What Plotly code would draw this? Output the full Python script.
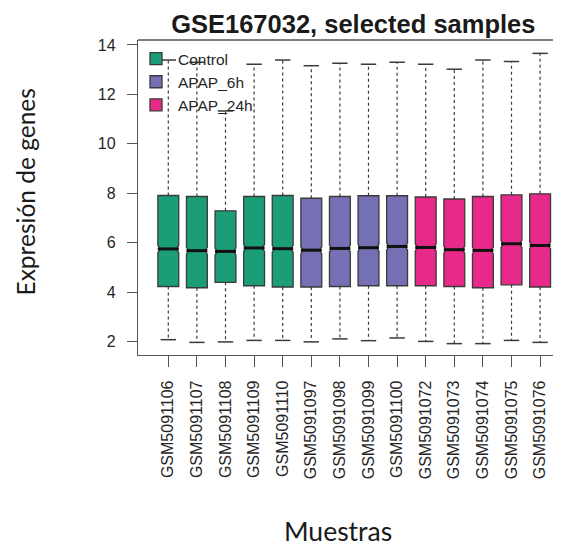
import plotly.graph_objects as go

samples = ["GSM5091106", "GSM5091107", "GSM5091108", "GSM5091109", "GSM5091110",
           "GSM5091097", "GSM5091098", "GSM5091099", "GSM5091100",
           "GSM5091072", "GSM5091073", "GSM5091074", "GSM5091075", "GSM5091076"]
groups = ["Control"] * 5 + ["APAP_6h"] * 4 + ["APAP_24h"] * 5
group_names = ["Control", "APAP_6h", "APAP_24h"]
group_colors = {"Control": "#1B9E77", "APAP_6h": "#7570B3", "APAP_24h": "#E7298A"}

upper_whisker = [13.39, 13.30, 11.33, 13.22, 13.39, 13.16, 13.26,
                 13.22, 13.30, 13.22, 13.02, 13.39, 13.33, 13.66]
q3 = [7.91, 7.87, 7.29, 7.87, 7.91, 7.80, 7.87,
      7.90, 7.90, 7.85, 7.77, 7.87, 7.94, 7.98]
median = [5.75, 5.68, 5.65, 5.79, 5.76, 5.70, 5.77,
          5.80, 5.85, 5.81, 5.72, 5.69, 5.96, 5.89]
q1 = [4.23, 4.18, 4.40, 4.26, 4.21, 4.21, 4.23,
      4.26, 4.26, 4.26, 4.23, 4.18, 4.30, 4.21]
lower_whisker = [2.08, 1.97, 1.99, 2.05, 2.05, 1.99, 2.11,
                 2.04, 2.15, 2.01, 1.92, 1.92, 2.05, 1.97]

y_ticks = [2, 4, 6, 8, 10, 12, 14]

# the page body adds an 8px margin, so the figure is laid out in window coords minus 8
OFF = 8
W, H = 561 - OFF, 546 - OFF
left = 138 - OFF
top = 40 - OFF
plot_bottom = 355 - OFF
bottom = H - plot_bottom
edge = "#3a3a3a"

fig = go.Figure()

for g in group_names:
    idx = [i for i, gg in enumerate(groups) if gg == g]
    fig.add_trace(go.Box(
        name=g,
        x=[samples[i] for i in idx],
        q1=[q1[i] for i in idx],
        median=[median[i] for i in idx],
        q3=[q3[i] for i in idx],
        lowerfence=[q1[i] for i in idx],
        upperfence=[q3[i] for i in idx],
        notched=True,
        notchspan=[0.14] * len(idx),
        notchwidth=0.12,
        width=0.73,
        fillcolor=group_colors[g],
        line=dict(color=edge, width=1.3),
        boxpoints=False,
        showlegend=True,
        hoverinfo="skip",
    ))

wx, wy = [], []
for i, s in enumerate(samples):
    wx += [s, s, None, s, s, None]
    wy += [q3[i], upper_whisker[i], None, q1[i], lower_whisker[i], None]
fig.add_trace(go.Scatter(x=wx, y=wy, mode="lines",
                         line=dict(color=edge, width=1.2, dash="3px,3px"),
                         showlegend=False, hoverinfo="skip"))
fig.add_trace(go.Scatter(x=samples + samples, y=upper_whisker + lower_whisker,
                         mode="markers",
                         marker=dict(symbol="line-ew", size=11,
                                     line=dict(color=edge, width=1.5)),
                         showlegend=False, hoverinfo="skip"))
fig.add_trace(go.Scatter(x=samples, y=median, mode="markers",
                         marker=dict(symbol="line-ew", size=15,
                                     line=dict(color="#111111", width=3)),
                         showlegend=False, hoverinfo="skip"))

px_per_unit = 28.6
c0 = 168.3 - OFF
x_lo = -(c0 - left) / px_per_unit
x_hi = (W - c0) / px_per_unit
ph = H - top - bottom
pw = W - left

fig.update_layout(
    width=W, height=H,
    margin=dict(l=left, r=0, t=top, b=bottom),
    paper_bgcolor="white", plot_bgcolor="white",
    boxmode="overlay",
    font=dict(family="Liberation Sans, Arial, sans-serif", color="#262626"),
    title=dict(text="<b>GSE167032, selected samples</b>",
               font=dict(size=25.5, color="#1a1a1a"),
               x=(353.3 - OFF) / W, xanchor="center",
               y=1 - (24 - OFF) / H, yanchor="middle", yref="container"),
    legend=dict(x=-(4 / pw), y=1 - 2 / ph, xanchor="left", yanchor="top",
                bgcolor="rgba(0,0,0,0)", font=dict(size=15.5, color="#262626"),
                tracegroupgap=0, itemwidth=34),
    showlegend=True,
)
fig.update_xaxes(
    type="category", range=[x_lo, x_hi],
    showline=True, linecolor="#555555", linewidth=1.3,
    ticks="outside", ticklen=11, tickcolor="#555555", tickwidth=1.3,
    tickangle=-90, tickfont=dict(size=16), ticklabelstandoff=7,
    showgrid=False, zeroline=False,
)
fig.update_yaxes(
    range=[1.46, 14.2], tickvals=y_ticks,
    showline=True, linecolor="#555555", linewidth=1.3,
    ticks="outside", ticklen=10, tickcolor="#555555", tickwidth=1.3,
    tickfont=dict(size=16), ticklabelstandoff=8,
    showgrid=False, zeroline=False,
)
fig.add_shape(type="line", xref="paper", yref="paper", x0=0, x1=1, y0=1, y1=1,
              line=dict(color="#555555", width=1.3))

fig.add_annotation(text="Expresión de genes", xref="paper", yref="paper",
                   x=-(left - (25 - OFF)) / pw,
                   y=1 - ((192.5 - OFF) - top) / ph,
                   xanchor="center", yanchor="middle", textangle=-90,
                   showarrow=False, font=dict(family="Lato, sans-serif", size=24.5, color="#1a1a1a"))
fig.add_annotation(text="Muestras", xref="paper", yref="paper",
                   x=((338.3 - OFF) - left) / pw,
                   y=-((531 - OFF) - plot_bottom) / ph,
                   xanchor="center", yanchor="middle",
                   showarrow=False, font=dict(family="Lato, sans-serif", size=26.5, color="#1a1a1a"))

fig.write_html("out.html")
